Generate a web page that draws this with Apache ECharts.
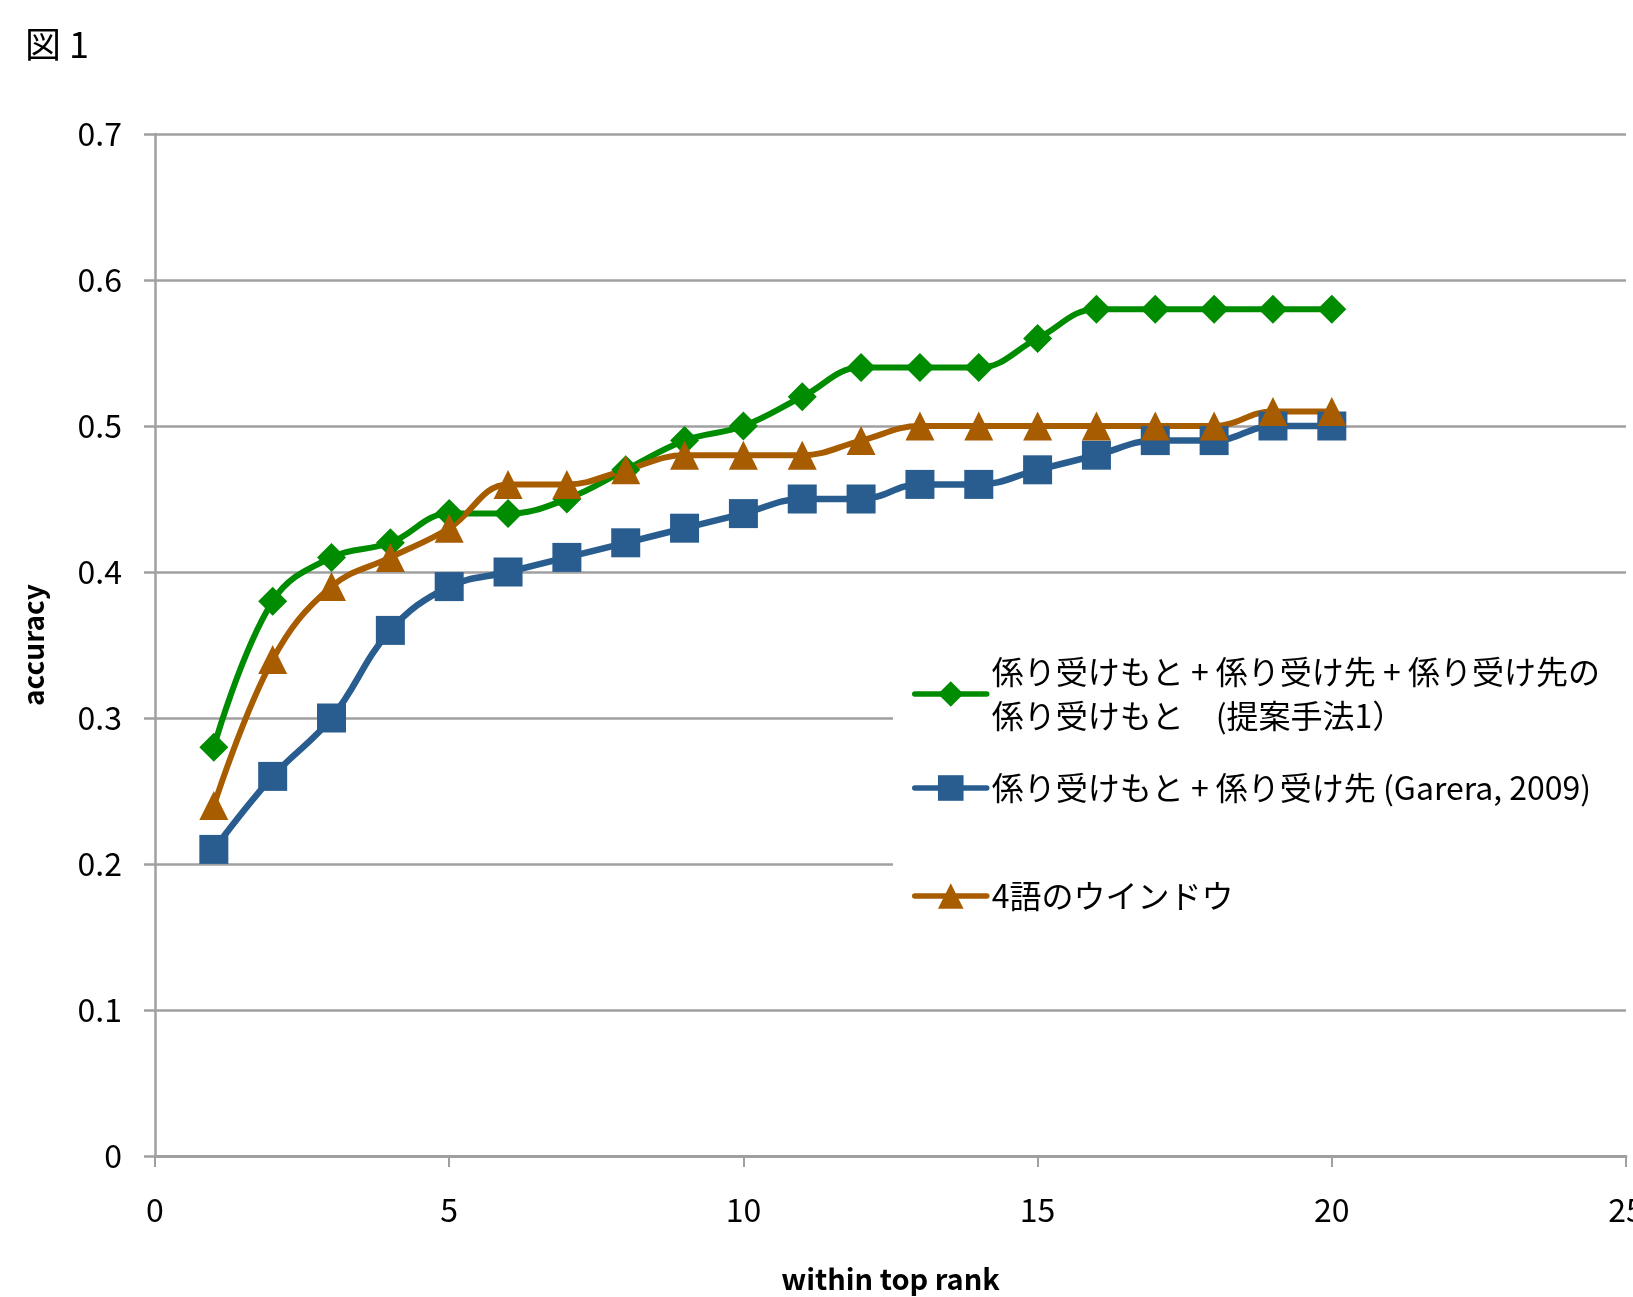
<!DOCTYPE html>
<html>
<head>
<meta charset="utf-8">
<script src="https://cdn.jsdelivr.net/npm/echarts@6/dist/echarts.min.js"></script>
<style>
  html, body { margin: 0; padding: 0; background: #fff; overflow: hidden; }
  #chart { width: 1633px; height: 1297px; }
</style>
</head>
<body>
<div id="chart"></div>
<script>
// ---- data ----
const ranks = [1, 2, 3, 4, 5, 6, 7, 8, 9, 10, 11, 12, 13, 14, 15, 16, 17, 18, 19, 20];
const proposed = [0.28, 0.38, 0.41, 0.42, 0.44, 0.44, 0.45, 0.47, 0.49, 0.50, 0.52, 0.54, 0.54, 0.54, 0.56, 0.58, 0.58, 0.58, 0.58, 0.58];
const garera = [0.21, 0.26, 0.30, 0.36, 0.39, 0.40, 0.41, 0.42, 0.43, 0.44, 0.45, 0.45, 0.46, 0.46, 0.47, 0.48, 0.49, 0.49, 0.50, 0.50];
const window4 = [0.24, 0.34, 0.39, 0.41, 0.43, 0.46, 0.46, 0.47, 0.48, 0.48, 0.48, 0.49, 0.50, 0.50, 0.50, 0.50, 0.50, 0.50, 0.51, 0.51];
const seriesNames = [
  '係り受けもと + 係り受け先 + 係り受け先の\n係り受けもと　(提案手法1）',
  '係り受けもと + 係り受け先 (Garera, 2009)',
  '4語のウインドウ'
];
const titleText = '図 1';
const xName = 'within top rank';
const yName = 'accuracy';

const FONT = '"Noto Sans CJK JP", "Noto Sans", sans-serif';
const pairs = vals => ranks.map((r, i) => [r, vals[i]]);

const chart = echarts.init(document.getElementById('chart'), null, { renderer: 'canvas' });

const legendText = { color: '#000', fontFamily: FONT, fontSize: 32, lineHeight: 44 };
const legendLine = { width: 5.5, cap: 'round' };

const option = {
  animation: false,
  backgroundColor: '#fff',
  title: {
    text: titleText, left: 20, top: 21,
    textStyle: { color: '#000', fontFamily: FONT, fontSize: 36, fontWeight: 'normal' }
  },
  grid: { left: 155, right: 7, top: 134, bottom: 141, containLabel: false, outerBoundsMode: 'none' },
  xAxis: {
    type: 'value', min: 0, max: 25, interval: 5,
    name: xName, nameLocation: 'middle', nameGap: 108,
    nameTextStyle: { color: '#000', fontFamily: FONT, fontSize: 29, fontWeight: 'bold' },
    axisLine: { show: true, lineStyle: { color: '#a0a0a0', width: 3 } },
    axisTick: { show: true, inside: false, length: 11, lineStyle: { color: '#a0a0a0', width: 2 } },
    axisLabel: { color: '#000', fontFamily: FONT, fontSize: 32, margin: 38 },
    splitLine: { show: false }
  },
  yAxis: {
    type: 'value', min: 0, max: 0.7, interval: 0.1,
    name: yName, nameLocation: 'middle', nameGap: 108, nameRotate: 90,
    nameTextStyle: { color: '#000', fontFamily: FONT, fontSize: 28, fontWeight: 'bold' },
    axisLine: { show: true, lineStyle: { color: '#a0a0a0', width: 2.5 } },
    axisTick: { show: true, inside: false, length: 11, lineStyle: { color: '#a0a0a0', width: 2.5 } },
    axisLabel: { color: '#000', fontFamily: FONT, fontSize: 32, margin: 33 },
    splitLine: { show: true, lineStyle: { color: '#a0a0a0', width: 2.5 } }
  },
  legend: [
    {
      data: [seriesNames[0]], orient: 'vertical', left: 893, top: 628,
      padding: [0, 80, 200, 19], backgroundColor: '#fff',
      itemWidth: 72, itemHeight: 32, itemGap: 0, lineStyle: legendLine,
      textStyle: Object.assign({}, legendText, { padding: [44, 0, 0, 0] })
    },
    {
      data: [seriesNames[1]], orient: 'vertical', left: 912, top: 766, z: 5,
      padding: 0, itemWidth: 72, itemHeight: 32, lineStyle: legendLine, textStyle: legendText
    },
    {
      data: [seriesNames[2]], orient: 'vertical', left: 912, top: 874, z: 5,
      padding: 0, itemWidth: 72, itemHeight: 32, lineStyle: legendLine, textStyle: legendText
    }
  ],
  series: [
    {
      name: seriesNames[0], type: 'line', data: pairs(proposed), smooth: 0.4,
      symbol: 'diamond', symbolSize: 29, color: '#008c00',
      lineStyle: { width: 6, color: '#008c00' }, itemStyle: { color: '#008c00' }
    },
    {
      name: seriesNames[1], type: 'line', data: pairs(garera), smooth: 0.4,
      symbol: 'rect', symbolSize: 29, color: '#2a5d8f',
      lineStyle: { width: 6.5, color: '#2a5d8f' }, itemStyle: { color: '#2a5d8f' }
    },
    {
      name: seriesNames[2], type: 'line', data: pairs(window4), smooth: 0.4,
      symbol: 'triangle', symbolSize: 29, color: '#a85c00',
      lineStyle: { width: 6, color: '#a85c00' }, itemStyle: { color: '#a85c00' }
    }
  ]
};
chart.setOption(option);
</script>
</body>
</html>
